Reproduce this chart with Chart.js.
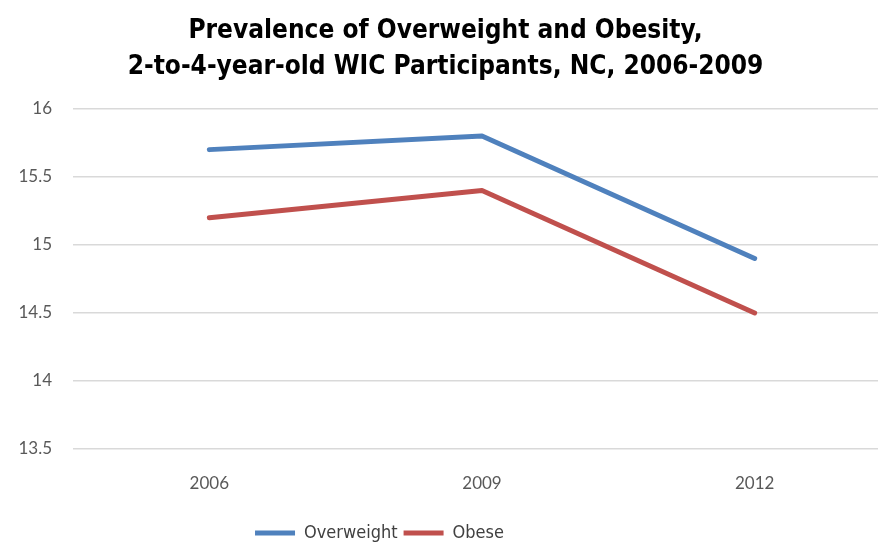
<!DOCTYPE html>
<html>
<head>
<meta charset="utf-8">
<script src="https://cdn.jsdelivr.net/npm/chart.js@4"></script>
<style>
    html, body { margin: 0; padding: 0; background: #fff; overflow: hidden; }
    #wrap { width: 895px; height: 546px; }
</style>
</head>
<body>
<div id="wrap"><canvas id="prevChart" width="895" height="546"></canvas></div>
<script>
// --- Data ---
const years = ["2006", "2009", "2012"];
const overweight = [15.7, 15.8, 14.9];
const obese = [15.2, 15.4, 14.5];
const yTicks = [13.5, 14, 14.5, 15, 15.5, 16];

const titleLines = [
    "Prevalence of Overweight and Obesity,",
    "2-to-4-year-old WIC Participants, NC, 2006-2009",
];

const narrowFont = "'DejaVu Sans Condensed', 'Liberation Sans', sans-serif";

// nudge the legend left and down, it sits under the left half of the plot
const legendShift = {
    id: "legendShift",
    afterLayout(chart) {
        chart.legend.left -= 66;
        chart.legend.right -= 66;
        chart.legend.top += 6;
        chart.legend.bottom += 6;
    },
};

const ctx = document.getElementById("prevChart").getContext("2d");

const prevChart = new Chart(ctx, {
    type: "line",
    data: {
        labels: years,
        datasets: [
            {
                label: "Overweight",
                data: overweight,
                borderColor: "#4F81BD",
                backgroundColor: "#4F81BD",
                borderWidth: 5,
                borderCapStyle: "round",
                borderJoinStyle: "round",
                pointRadius: 0,
                tension: 0,
            },
            {
                label: "Obese",
                data: obese,
                borderColor: "#C0504D",
                backgroundColor: "#C0504D",
                borderWidth: 5,
                borderCapStyle: "round",
                borderJoinStyle: "round",
                pointRadius: 0,
                tension: 0,
            },
        ],
    },
    options: {
        responsive: false,
        animation: false,
        layout: {
            padding: { left: 0, right: 4, top: 0, bottom: 0 },
        },
        plugins: {
            title: {
                display: true,
                text: titleLines,
                color: "#000",
                font: { family: narrowFont, size: 26, weight: "bold", lineHeight: 1.4 },
                padding: { top: 13, bottom: 23 },
            },
            legend: {
                position: "bottom",
                labels: {
                    usePointStyle: true,
                    pointStyle: "line",
                    pointStyleWidth: 40,
                    boxWidth: 40,
                    color: "#404040",
                    padding: 6,
                    font: { family: narrowFont, size: 18 },
                },
            },
            tooltip: { enabled: false },
        },
        scales: {
            x: {
                offset: true,
                grid: { display: false, drawTicks: false },
                border: { display: false },
                ticks: {
                    color: "#595959",
                    padding: 24,
                    font: { family: "Lato", size: 17 },
                },
                afterFit(scale) {
                    scale.height = 63;
                },
            },
            y: {
                min: 13.5,
                max: 16,
                grid: { color: "#D9D9D9", lineWidth: 1.5, drawTicks: false },
                border: { display: false },
                afterBuildTicks(scale) {
                    scale.ticks = yTicks.map((v) => ({ value: v }));
                },
                ticks: {
                    color: "#595959",
                    padding: 21,
                    font: { family: "Lato", size: 17 },
                    callback: (value) => String(value),
                },
                afterFit(scale) {
                    scale.width = 73;
                },
            },
        },
    },
    plugins: [legendShift],
});
</script>
</body>
</html>
